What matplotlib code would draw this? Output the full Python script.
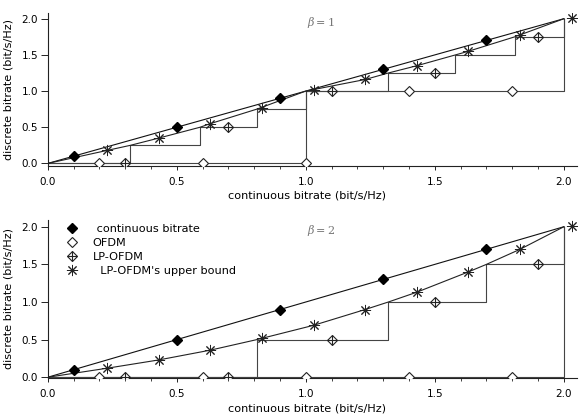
import matplotlib
matplotlib.use("Agg")
import matplotlib.pyplot as plt
from matplotlib.lines import Line2D
from matplotlib.ticker import MultipleLocator, FormatStrFormatter

plt.rcParams['font.family'] = ['DejaVu Sans']
plt.rcParams['mathtext.fontset'] = 'dejavuserif'

# ---------------- data ----------------
cont_x = [0.0, 2.0]
cont_y = [0.0, 2.0]
cont_mx = [0.1, 0.5, 0.9, 1.3, 1.7]
cont_my = [0.1, 0.5, 0.9, 1.3, 1.7]

# beta = 1
ub1_x = [0, 0.23, 0.32, 0.43, 0.59, 0.63, 0.81, 1.0, 1.23, 1.32, 1.43, 1.58, 1.63, 1.81, 2.0]
ub1_y = [0, 0.18, 0.25, 0.35, 0.50, 0.55, 0.75, 1.0, 1.16, 1.25, 1.35, 1.50, 1.55, 1.75, 2.0]
ub1_mx = [0.23, 0.43, 0.63, 0.83, 1.03, 1.23, 1.43, 1.63, 1.83, 2.03]
ub1_my = [0.18, 0.35, 0.55, 0.77, 1.01, 1.16, 1.35, 1.55, 1.78, 2.01]
lp1_edges = [0, 0.32, 0.59, 0.81, 1.0, 1.32, 1.58, 1.81, 2.0]
lp1_levels = [0, 0.25, 0.5, 0.75, 1.0, 1.25, 1.5, 1.75, 2.0]
lp1_mx = [0.3, 0.7, 1.1, 1.5, 1.9]
lp1_my = [0.0, 0.5, 1.0, 1.25, 1.75]
ofdm1_edges = [0, 1.0, 2.0]
ofdm1_levels = [0, 1.0, 2.0]
ofdm1_mx = [0.2, 0.6, 1.0, 1.4, 1.8]
ofdm1_my = [0.0, 0.0, 0.0, 1.0, 1.0]

# beta = 2
ub2_x = [0, 0.23, 0.43, 0.63, 0.81, 1.03, 1.23, 1.32, 1.43, 1.63, 1.70, 1.83, 2.0]
ub2_y = [0, 0.12, 0.23, 0.36, 0.50, 0.69, 0.90, 1.0, 1.13, 1.40, 1.50, 1.70, 2.0]
ub2_mx = [0.23, 0.43, 0.63, 0.83, 1.03, 1.23, 1.43, 1.63, 1.83, 2.03]
ub2_my = [0.12, 0.23, 0.36, 0.52, 0.69, 0.90, 1.13, 1.40, 1.70, 2.01]
lp2_edges = [0, 0.81, 1.32, 1.70, 2.0]
lp2_levels = [0, 0.5, 1.0, 1.5, 2.0]
lp2_mx = [0.3, 0.7, 1.1, 1.5, 1.9]
lp2_my = [0.0, 0.0, 0.5, 1.0, 1.5]
ofdm2_edges = [0, 2.0]
ofdm2_levels = [0, 2.0]
ofdm2_mx = [0.2, 0.6, 1.0, 1.4, 1.8]
ofdm2_my = [0.0, 0.0, 0.0, 0.0, 0.0]

labels = [" continuous bitrate", "OFDM", "LP-OFDM", "  LP-OFDM's upper bound"]
xlabel = "continuous bitrate (bit/s/Hz)"
ylabel = "discrete bitrate (bit/s/Hz)"

# ---------------- styles ----------------
FS = 7.5
FL = 8.1
MS = 5.3
LW = 0.8
C_DIAG = '#111111'
C_UB = '#222222'
C_STEP = '#444444'

fig = plt.figure(figsize=(5.82, 4.17), dpi=100)
ax1 = fig.add_axes([0.082, 0.602, 0.909, 0.367])
ax2 = fig.add_axes([0.082, 0.0935, 0.909, 0.379])


def draw(ax, ub_x, ub_y, ub_mx, ub_my, lp_e, lp_l, lp_mx, lp_my, of_e, of_l, of_mx, of_my,
         beta, ylim):
    ax.step(of_e, of_l, where='post', color=C_STEP, lw=LW, zorder=2)
    ax.step(lp_e, lp_l, where='post', color=C_STEP, lw=LW, zorder=2)
    ax.plot(cont_x, cont_y, color=C_DIAG, lw=LW, zorder=3)
    ax.plot(ub_x, ub_y, color=C_UB, lw=LW, zorder=3)
    ax.plot(cont_mx, cont_my, ls='none', marker='D', ms=MS, mfc='black', mec='black', zorder=5)
    ax.plot(of_mx, of_my, ls='none', marker='D', ms=MS, mfc='white', mec='#222222', mew=0.8, zorder=5)
    ax.plot(lp_mx, lp_my, ls='none', marker='D', ms=MS, mfc='white', mec='#222222', mew=0.8, zorder=5)
    ax.plot(lp_mx, lp_my, ls='none', marker='+', ms=MS * 1.41, mec='#222222', mew=0.8, zorder=6)
    ax.plot(ub_mx, ub_my, ls='none', marker=(8, 2, 0), ms=8, mec='#222222', mew=0.7, zorder=5)

    ax.set_xlim(0, 2.05)
    ax.set_ylim(*ylim)
    ax.spines['top'].set_visible(False)
    ax.spines['right'].set_visible(False)
    for s in ('left', 'bottom'):
        ax.spines[s].set_linewidth(0.8)
        ax.spines[s].set_color('#222222')
    ax.xaxis.set_major_locator(MultipleLocator(0.5))
    ax.xaxis.set_minor_locator(MultipleLocator(0.1))
    ax.yaxis.set_major_locator(MultipleLocator(0.5))
    ax.xaxis.set_major_formatter(FormatStrFormatter('%.1f'))
    ax.yaxis.set_major_formatter(FormatStrFormatter('%.1f'))
    ax.tick_params(axis='x', which='major', direction='out', length=3, width=0.7, pad=5, labelsize=FS, color='#222222')
    ax.tick_params(axis='x', which='minor', direction='out', length=2, width=0.6, color='#222222')
    ax.tick_params(axis='y', which='major', direction='out', length=5, width=0.7, pad=2, labelsize=FS, color='#222222')
    ax.set_xlabel(xlabel, fontsize=FL)
    ax.set_ylabel(ylabel, fontsize=FL)
    ax.xaxis.set_label_coords(0.49, -0.16)
    ax.yaxis.set_label_coords(-0.064, 0.5)
    ax.text(0.49, 0.935, r'$\beta = %d$' % beta, transform=ax.transAxes,
            fontsize=8, color='#777777', ha='left', va='center')


draw(ax1, ub1_x, ub1_y, ub1_mx, ub1_my, lp1_edges, lp1_levels, lp1_mx, lp1_my,
     ofdm1_edges, ofdm1_levels, ofdm1_mx, ofdm1_my, 1, (-0.035, 2.08))
draw(ax2, ub2_x, ub2_y, ub2_mx, ub2_my, lp2_edges, lp2_levels, lp2_mx, lp2_my,
     ofdm2_edges, ofdm2_levels, ofdm2_mx, ofdm2_my, 2, (-0.01, 2.09))

h_cont = Line2D([], [], ls='none', marker='D', ms=MS, mfc='black', mec='black')
h_ofdm = Line2D([], [], ls='none', marker='D', ms=MS, mfc='white', mec='#222222', mew=0.8)
h_lp_d = Line2D([], [], ls='none', marker='D', ms=MS, mfc='white', mec='#222222', mew=0.8)
h_lp_p = Line2D([], [], ls='none', marker='+', ms=MS * 1.41, mec='#222222', mew=0.8)
h_ub = Line2D([], [], ls='none', marker=(8, 2, 0), ms=8, mec='#222222', mew=0.7)
ax2.legend([h_cont, h_ofdm, (h_lp_d, h_lp_p), h_ub], labels,
           loc='upper left', bbox_to_anchor=(0.036, 0.975), frameon=False,
           fontsize=FL, handlelength=0.95, handletextpad=1.35, labelspacing=0.35,
           borderaxespad=0, borderpad=0)

fig.savefig('out.png', dpi=100)
